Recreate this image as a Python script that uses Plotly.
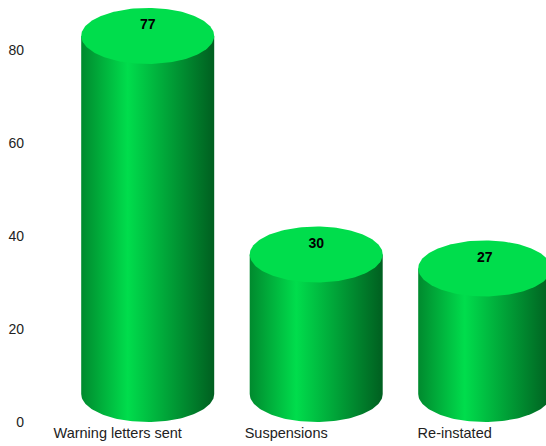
import numpy as np
import plotly.graph_objects as go

categories = ["Warning letters sent", "Suspensions", "Re-instated"]
values = [77, 30, 27]
y_ticks = [0, 20, 40, 60, 80]

W, H = 546, 446
LEFT, BOTTOM = 25, 24
PX_PER_UNIT = 4.65
BAR_SPACING_PX = 168.5
FIRST_BAR_PX = 147.7
RADIUS_PX = 66.5
DEPTH_PX = 28.0      # vertical half-axis of the ellipses; also the 3D label shift
BASE_LIFT = DEPTH_PX / PX_PER_UNIT

x_unit = BAR_SPACING_PX
x_min = (LEFT - FIRST_BAR_PX) / x_unit
x_max = (W - FIRST_BAR_PX) / x_unit
y_max = (H - BOTTOM) / PX_PER_UNIT

rx = RADIUS_PX / x_unit
ry = DEPTH_PX / PX_PER_UNIT

BODY_SCALE = [
    [0.00, "#008a2e"], [0.35, "#00dd4c"], [1.00, "#005f20"],
]
CAP_COLOR = "#00dd4c"

fig = go.Figure()
t = np.linspace(0, np.pi, 90)
ring = np.linspace(0, 2 * np.pi, 180)

for i, v in enumerate(values):
    top = v + BASE_LIFT
    # Body: top edge straight across the cap's centre, bottom edge the lower half-ellipse.
    bx = np.concatenate([[i - rx, i + rx], i + rx * np.cos(t)])
    by = np.concatenate([[top, top], BASE_LIFT - ry * np.sin(t)])
    fig.add_trace(go.Scatter(
        x=bx, y=by, mode="lines", fill="toself", line=dict(width=0),
        fillgradient=dict(type="horizontal", colorscale=BODY_SCALE),
        hoverinfo="skip", showlegend=False,
    ))
    fig.add_trace(go.Scatter(
        x=i + rx * np.cos(ring), y=top + ry * np.sin(ring),
        mode="lines", fill="toself", fillcolor=CAP_COLOR,
        line=dict(width=0), hoverinfo="skip", showlegend=False,
    ))

# Value labels sit on the upper part of each cap.
fig.add_trace(go.Scatter(
    x=list(range(len(values))),
    y=[v + BASE_LIFT + 10 / PX_PER_UNIT for v in values],
    mode="text", text=[str(v) for v in values],
    textposition="middle center",
    textfont=dict(family="Liberation Sans", size=14, color="#000000", weight="bold"),
    hoverinfo="skip", showlegend=False,
))

fig.update_layout(
    width=W, height=H, margin=dict(l=LEFT, r=0, t=0, b=BOTTOM),
    paper_bgcolor="white", plot_bgcolor="white",
    font=dict(family="Liberation Sans", size=14, color="#222222"),
    xaxis=dict(
        range=[x_min, x_max], showgrid=False, zeroline=False, showline=False,
        tickmode="array", tickvals=[i - 30 / x_unit for i in range(len(categories))],
        ticktext=categories, ticks="", ticklen=0, fixedrange=True,
        tickfont=dict(size=14.5),
    ),
    yaxis=dict(
        range=[0, y_max], showgrid=False, zeroline=False, showline=False,
        tickmode="array", tickvals=y_ticks, ticks="", fixedrange=True,
    ),
)

fig.write_html("out.html")
